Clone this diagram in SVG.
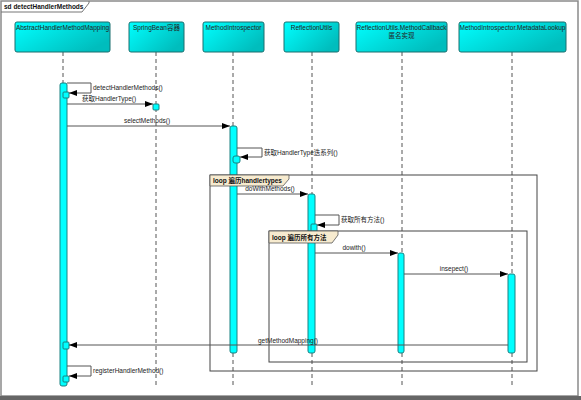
<svg xmlns="http://www.w3.org/2000/svg" width="581" height="400" viewBox="0 0 581 400">
<defs>
<linearGradient id="hg" x1="0" y1="0" x2="1" y2="0.6">
<stop offset="0" stop-color="#00FFFF"/>
<stop offset="1" stop-color="#00BDBD"/>
</linearGradient>
<marker id="ah" markerWidth="8" markerHeight="6" refX="8" refY="3" orient="auto" markerUnits="userSpaceOnUse">
<path d="M0,0 L8,3 L0,6 Z" fill="#000"/>
</marker>
<style>
.t{font-family:"Liberation Sans","Noto Sans CJK SC",sans-serif;font-size:6.5px;fill:#222}
.tb{font-family:"Liberation Sans","Noto Sans CJK SC",sans-serif;font-size:6.5px;font-weight:bold;fill:#111}
.hdr{fill:url(#hg);stroke:#1a6f6f;stroke-width:1}
.ll{stroke:#555;stroke-width:1;stroke-dasharray:4,3;fill:none}
.act{fill:#00FFFF;stroke:#1a8080;stroke-width:1}
.msg{stroke:#555;stroke-width:1;fill:none;marker-end:url(#ah)}
.frm{fill:none;stroke:#444;stroke-width:1}
.tab{fill:#F7EBCF;stroke:#555;stroke-width:0.8}
</style>
</defs>
<rect x="0" y="0" width="581" height="400" fill="#fff"/>
<rect x="1" y="1" width="577" height="395" fill="none" stroke="#8a8a8a" stroke-width="1.5"/>
<rect x="0" y="396" width="581" height="4" fill="#666"/>
<g id="frame-tab">
<path d="M1,12 L82,12 L89,3 L89,1" fill="none" stroke="#777" stroke-width="1"/>
<text class="tb" x="4" y="9">sd detectHandlerMethods</text>
</g>
<g id="lifelines">
<line class="ll" x1="63" y1="52" x2="63" y2="386"/>
<line class="ll" x1="156" y1="52" x2="156" y2="386"/>
<line class="ll" x1="233" y1="52" x2="233" y2="386"/>
<line class="ll" x1="312" y1="52" x2="312" y2="386"/>
<line class="ll" x1="402" y1="52" x2="402" y2="386"/>
<line class="ll" x1="512" y1="52" x2="512" y2="386"/>
</g>
<g id="n-abstract"><rect class="hdr" x="15" y="22" width="95" height="30" rx="2"/><text class="t" x="62.5" y="29.5" text-anchor="middle">AbstractHandlerMethodMapping</text></g>
<g id="n-spring"><rect class="hdr" x="129" y="22" width="55" height="30" rx="2"/><text class="t" x="156.5" y="29.5" text-anchor="middle">SpringBean容器</text></g>
<g id="n-introspector"><rect class="hdr" x="203" y="22" width="61" height="30" rx="2"/><text class="t" x="233.5" y="29.5" text-anchor="middle">MethodIntrospector</text></g>
<g id="n-reflection"><rect class="hdr" x="284" y="22" width="55" height="30" rx="2"/><text class="t" x="311.5" y="29.5" text-anchor="middle">ReflectionUtils</text></g>
<g id="n-callback"><rect class="hdr" x="356" y="22" width="91" height="30" rx="2"/><text class="t" x="401.5" y="29.5" text-anchor="middle">ReflectionUtils.MethodCallback</text><text class="t" x="401.5" y="37.5" text-anchor="middle">匿名实现</text></g>
<g id="n-lookup"><rect class="hdr" x="459" y="22" width="107" height="30" rx="2"/><text class="t" x="512.5" y="29.5" text-anchor="middle">MethodIntrospector.MetadataLookup</text></g>
<g id="activations">
<rect class="act" x="60" y="83" width="7" height="303" rx="2"/>
<rect class="act" x="63" y="92" width="6" height="6" rx="1"/>
<rect class="act" x="153" y="104" width="6" height="6" rx="1"/>
<rect class="act" x="230" y="126" width="7" height="227" rx="2"/>
<rect class="act" x="233" y="156" width="7" height="7" rx="2"/>
<rect class="act" x="308" y="194" width="7" height="159" rx="2"/>
<rect class="act" x="311" y="224" width="6" height="8" rx="1"/>
<rect class="act" x="398" y="253" width="6" height="100" rx="2"/>
<rect class="act" x="508" y="274" width="7" height="79" rx="2"/>
<rect class="act" x="63" y="342" width="6" height="7" rx="1"/>
<rect class="act" x="63" y="376" width="6" height="6" rx="1"/>
</g>
<g id="frames">
<rect class="frm" x="210" y="175" width="327" height="196"/>
<path class="tab" d="M210,175 L289,175 L289,179 L283,186 L210,186 Z"/>
<text class="tb" x="213" y="183">loop 遍历handlertypes</text>
<rect class="frm" x="269" y="231" width="258" height="131"/>
<path class="tab" d="M269,231 L338,231 L338,235 L332,243 L269,243 Z"/>
<text class="tb" x="272" y="239.5">loop 遍历所有方法</text>
</g>
<g id="connectors">
<path class="msg" d="M67,83 L91,83 L91,93 L69,93"/>
<text class="t" x="93" y="90">detectHandlerMethods()</text>
<line class="msg" x1="67" y1="104" x2="153" y2="104"/>
<text class="t" x="82" y="101">获取HandlerType()</text>
<line class="msg" x1="67" y1="126" x2="230" y2="126"/>
<text class="t" x="147" y="123" text-anchor="middle">selectMethods()</text>
<path class="msg" d="M237,148 L262,148 L262,157 L240,157"/>
<text class="t" x="264" y="155">获取HandlerType迭系列()</text>
<line class="msg" x1="237" y1="194" x2="308" y2="194"/>
<text class="t" x="270" y="191" text-anchor="middle">doWithMethods()</text>
<path class="msg" d="M315,215 L339,215 L339,225 L317,225"/>
<text class="t" x="341" y="222">获取所有方法()</text>
<line class="msg" x1="315" y1="253" x2="398" y2="253"/>
<text class="t" x="354" y="250" text-anchor="middle">dowith()</text>
<line class="msg" x1="404" y1="274" x2="508" y2="274"/>
<text class="t" x="454" y="271" text-anchor="middle">insepect()</text>
<line class="msg" x1="508" y1="345" x2="69" y2="345"/>
<text class="t" x="288" y="343" text-anchor="middle">getMethodMapping()</text>
<path class="msg" d="M67,366 L91,366 L91,376 L69,376"/>
<text class="t" x="93" y="373">registerHandlerMethod()</text>
</g>
</svg>
